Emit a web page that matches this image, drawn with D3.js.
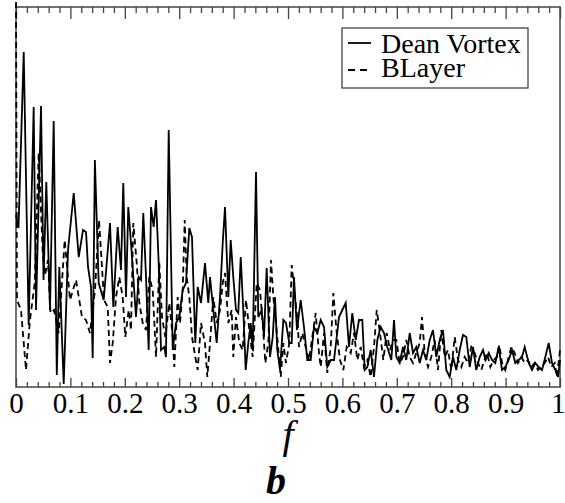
<!DOCTYPE html>
<html>
<head>
<meta charset="utf-8">
<script src="https://cdn.jsdelivr.net/npm/d3@7"></script>
<style>
  body { margin: 0; background: #fff; }
  svg { display: block; }
  text { font-family: "Liberation Serif", "Times New Roman", serif; fill: #000; }
</style>
</head>
<body>
<svg id="chart"></svg>
<script>
// values (f, amplitude in arbitrary units)
var deanF = [0,0.0046,0.0142,0.0233,0.0325,0.0368,0.046,0.0506,0.0557,0.0625,0.0693,0.075,0.0796,0.0877,0.0956,0.1061,0.1153,0.1232,0.1287,0.1324,0.1379,0.141,0.145,0.152,0.1612,0.1728,0.1789,0.1869,0.193,0.1972,0.2022,0.2064,0.2114,0.2206,0.2255,0.2298,0.234,0.239,0.2439,0.2482,0.2531,0.2574,0.2623,0.2665,0.2726,0.2757,0.2807,0.2881,0.2941,0.3002,0.3064,0.3125,0.3186,0.3235,0.3296,0.334,0.3401,0.3474,0.3535,0.3566,0.3627,0.3689,0.375,0.38,0.3842,0.3903,0.3947,0.3994,0.4044,0.4086,0.4131,0.4178,0.4222,0.427,0.4314,0.4351,0.4412,0.4454,0.4517,0.4559,0.4608,0.4669,0.4719,0.4761,0.4803,0.4853,0.4914,0.4963,0.5024,0.5068,0.511,0.5165,0.5233,0.5294,0.5355,0.5417,0.5478,0.5539,0.5601,0.5662,0.5722,0.5785,0.5846,0.5938,0.5998,0.6061,0.6121,0.6182,0.6244,0.6305,0.6366,0.641,0.6458,0.652,0.6581,0.6642,0.6704,0.6765,0.6825,0.6899,0.6949,0.6991,0.7053,0.7114,0.7175,0.7237,0.7298,0.7358,0.7421,0.7482,0.7542,0.7605,0.7665,0.7726,0.7789,0.7849,0.791,0.7972,0.8033,0.8094,0.8156,0.8217,0.8278,0.834,0.8401,0.8461,0.8524,0.8585,0.8631,0.8689,0.875,0.8811,0.8873,0.8934,0.8995,0.9057,0.9118,0.9178,0.9241,0.9301,0.9351,0.9425,0.9485,0.9546,0.9608,0.9669,0.973,0.9792,0.9853,0.9914,0.9963,1]
var deanA = [17.2,15.9,33.5,6.2,28.0,7.7,28.1,10.7,20.5,7.7,26.6,1.2,12.0,0.3,13.7,19.4,13.0,15.7,15.5,12.0,10.0,2.9,22.7,10.4,8.7,16.4,8.0,16.0,11.7,20.4,9.0,18.0,14.4,7.0,11.0,10.7,17.4,11.0,3.7,18.0,16.0,18.7,12.4,3.7,4.0,3.0,25.7,3.7,6.4,7.0,9.7,10.4,15.9,15.0,4.4,10.0,8.4,12.4,8.4,11.0,7.7,4.4,9.0,14.4,18.0,9.0,14.7,11.0,7.7,7.4,13.0,7.7,1.7,4.4,6.4,3.7,21.5,7.0,7.7,5.0,11.9,3.0,5.0,9.0,3.7,1.7,6.7,6.4,4.4,4.4,11.0,5.7,8.7,6.0,2.7,2.7,6.0,5.4,6.7,6.0,2.0,2.7,2.7,7.0,7.7,8.4,4.0,7.4,4.7,6.7,6.7,1.7,2.0,3.7,1.0,4.7,6.0,5.4,4.0,2.7,6.7,3.0,2.4,4.0,2.7,5.4,3.4,4.0,2.4,3.7,2.7,4.7,5.7,3.0,4.7,5.7,1.7,1.0,3.0,1.7,3.7,5.2,5.0,2.0,4.0,1.7,3.0,3.7,2.7,3.4,2.7,2.4,4.0,1.7,2.0,2.7,3.7,2.4,2.7,3.0,4.0,2.4,1.7,2.4,2.0,1.7,3.0,4.4,2.4,1.7,1.0,2.7]

var blayerF = [0,0.0018,0.0092,0.0184,0.0257,0.0344,0.0417,0.0491,0.0533,0.0588,0.0634,0.0699,0.0785,0.0895,0.0993,0.1103,0.1213,0.1287,0.136,0.1452,0.1526,0.1618,0.1686,0.1728,0.1778,0.1838,0.1899,0.1961,0.2009,0.2072,0.2114,0.2156,0.2219,0.2267,0.2329,0.239,0.245,0.2513,0.2574,0.2634,0.2684,0.2744,0.2818,0.2881,0.291,0.2972,0.3015,0.3064,0.3101,0.3138,0.3186,0.3235,0.3296,0.334,0.3401,0.3474,0.3517,0.3566,0.3627,0.3689,0.375,0.38,0.3842,0.3903,0.3965,0.3994,0.4044,0.4105,0.4167,0.4228,0.4289,0.4351,0.4425,0.4485,0.4535,0.4583,0.4638,0.4688,0.473,0.4779,0.4822,0.4866,0.4914,0.4963,0.5024,0.5068,0.5116,0.5175,0.5202,0.5263,0.5325,0.5386,0.5447,0.5509,0.557,0.5601,0.5662,0.5722,0.5785,0.5833,0.5895,0.5956,0.6017,0.6079,0.6153,0.6213,0.6274,0.6336,0.6397,0.6458,0.652,0.6581,0.6631,0.6691,0.6752,0.6814,0.6875,0.693,0.6991,0.7053,0.7114,0.7175,0.7237,0.7298,0.7358,0.7421,0.7463,0.7513,0.7574,0.7634,0.7697,0.7757,0.7818,0.7881,0.7941,0.8002,0.8064,0.8125,0.8186,0.8248,0.8309,0.8369,0.8432,0.8493,0.8553,0.8612,0.8658,0.8719,0.8781,0.8842,0.8884,0.8934,0.8995,0.9057,0.9105,0.9167,0.9228,0.9289,0.9351,0.9412,0.9472,0.9535,0.9596,0.9656,0.9719,0.9779,0.984,0.9903,0.9945,1]
var blayerA = [38.5,8.7,7.7,1.7,6.7,10.4,23.4,13.4,11.2,12.7,7.4,7.7,5.4,14.7,8.7,10.7,7.0,6.7,5.4,9.7,16.7,8.7,8.0,2.4,4.4,9.0,11.0,9.0,5.0,7.7,5.7,16.4,12.4,8.4,6.4,5.7,11.0,9.7,3.0,12.4,7.0,5.0,8.4,5.0,2.0,9.0,6.4,9.7,16.7,11.0,9.0,5.0,3.0,1.7,6.4,4.4,1.0,4.4,9.0,6.4,7.7,10.4,11.4,6.4,7.7,3.0,7.0,4.4,3.7,8.7,5.7,3.0,10.4,9.7,6.4,2.4,4.4,12.7,9.0,6.4,3.7,1.0,4.4,2.4,4.4,12.2,9.7,6.7,4.0,5.4,4.0,2.7,5.0,7.4,3.4,2.0,5.4,1.4,4.0,9.4,5.4,2.7,1.7,4.0,3.4,5.4,2.7,4.0,2.0,2.7,1.0,4.0,7.7,5.4,2.7,5.4,3.7,4.7,4.7,2.4,3.0,4.7,3.0,2.4,3.4,4.4,7.0,3.4,2.0,3.0,4.7,1.7,5.7,3.0,3.7,1.7,5.0,2.7,2.0,3.0,2.4,4.0,3.4,2.4,1.7,2.7,3.4,2.0,2.7,3.0,4.2,2.4,1.7,3.0,4.0,3.4,2.4,3.0,2.4,2.7,2.0,2.4,1.7,2.0,2.4,3.0,2.0,2.4,1.0,3.7]

var xMajor = [0,0.1,0.2,0.3,0.4,0.5,0.6,0.7,0.8,0.9,1]
var xTickLabels = ['0','0.1','0.2','0.3','0.4','0.5','0.6','0.7','0.8','0.9','1']
var seriesNames = ['Dean Vortex', 'BLayer']

var W = 565, H = 503
var margin = {top: 7, right: 5, bottom: 116, left: 16},
   width = W - margin.left - margin.right,
   height = H - margin.top - margin.bottom

var svg = d3.select('#chart')
	.attr('width', W)
	.attr('height', H)
  .append('g')
	.attr('transform', 'translate(' + margin.left + ',' + margin.top + ')')

var x = d3.scaleLinear().domain([0, 1]).range([0, width])
var y = d3.scaleLinear().domain([0, 38]).range([height, 0])

// minor ticks every 0.02, skipping the major ones
var minor = d3.range(0, 51).filter(i => i % 5 != 0).map(i => i / 50)

// frame
svg.append('rect')
	.attr('x', 0).attr('y', 0)
	.attr('width', width).attr('height', height)
	.attr('fill', 'none')
	.attr('stroke', '#444')
	.attr('stroke-width', 1.5)

// ticks, pointing inward on top and bottom
function tickAxis(axisFn, vals, size, yPos) {
	var g = svg.append('g')
		.attr('transform', 'translate(0,' + yPos + ')')
		.call(axisFn(x).tickValues(vals).tickSizeInner(size).tickSizeOuter(0).tickFormat(''))
	g.select('.domain').remove()
	g.selectAll('line').attr('stroke', '#444').attr('stroke-width', 1.3)
	return g
}
tickAxis(d3.axisTop, minor, -6, 0)
tickAxis(d3.axisTop, xMajor, -12, 0)
tickAxis(d3.axisBottom, minor, -5, height)
var bottom = tickAxis(d3.axisBottom, xMajor, -9, height)
bottom.attr('font-family', null).attr('font-size', null)
bottom.selectAll('text')
	.text((d, i) => xTickLabels[i])
	.attr('y', 26)
	.attr('dy', 0)
	.attr('text-anchor', (d, i) => i == xMajor.length - 1 ? 'end' : 'middle')
	.attr('dx', (d, i) => i == xMajor.length - 1 ? 5 : 0)
	.style('font-size', '29px')
	.attr('fill', '#000')

// series
var line = d3.line()
	.x(d => x(d[0]))
	.y(d => y(d[1]))

svg.append('path')
	.datum(deanF.map((f, i) => [f, deanA[i]]))
	.attr('d', line)
	.attr('fill', 'none')
	.attr('stroke', '#000')
	.attr('stroke-width', 1.8)

svg.append('path')
	.datum(blayerF.map((f, i) => [f, blayerA[i]]))
	.attr('d', line)
	.attr('fill', 'none')
	.attr('stroke', '#000')
	.attr('stroke-width', 1.8)
	.attr('stroke-dasharray', '6,4')

// legend
var leg = svg.append('g').attr('transform', 'translate(326,21)')
leg.append('rect')
	.attr('width', 186).attr('height', 60)
	.attr('fill', '#fff')
	.attr('stroke', '#444')
	.attr('stroke-width', 1.3)
seriesNames.forEach((name, i) => {
	leg.append('line')
		.attr('x1', 6).attr('x2', 29)
		.attr('y1', 15 + i * 27).attr('y2', 15 + i * 27)
		.attr('stroke', '#000')
		.attr('stroke-width', 1.8)
		.attr('stroke-dasharray', i ? '7,5' : null)
	leg.append('text')
		.attr('x', 39)
		.attr('y', 25 + i * 24)
		.style('font-size', '28px')
		.text(name)
})

// axis title and panel letter
svg.append('text')
	.attr('x', width / 2)
	.attr('y', 441)
	.attr('text-anchor', 'middle')
	.style('font-size', '40px')
	.style('font-style', 'italic')
	.text('f')

svg.append('text')
	.attr('x', width / 2 - 12)
	.attr('y', 487)
	.attr('text-anchor', 'middle')
	.style('font-size', '40px')
	.style('font-style', 'italic')
	.style('font-weight', 'bold')
	.text('b')
</script>
</body>
</html>
